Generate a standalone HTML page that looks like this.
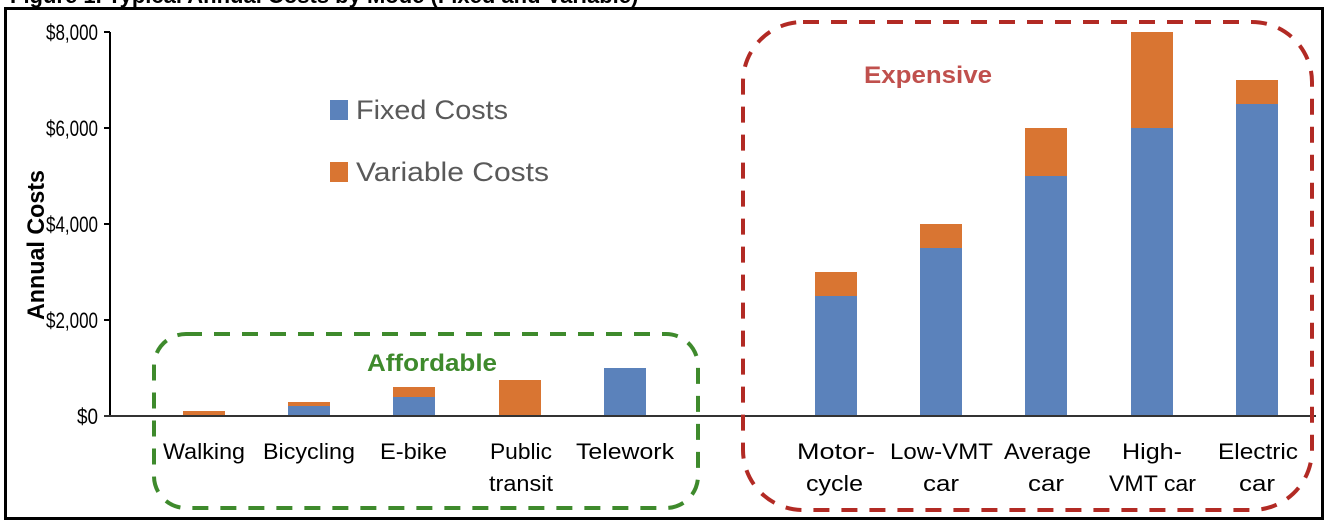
<!DOCTYPE html>
<html><head><meta charset="utf-8"><style>
body{margin:0;background:#fff;}
svg{display:block;font-family:"Liberation Sans",sans-serif;}
</style></head><body>
<svg width="1328" height="526" viewBox="0 0 1328 526">
<rect x="0" y="0" width="1328" height="526" fill="#fff"/>
<text x="10" y="3" font-size="22" font-weight="bold" fill="#000">Figure 1. Typical Annual Costs by Mode (Fixed and Variable)</text>
<rect x="5.5" y="8.5" width="1317" height="510" fill="none" stroke="#000" stroke-width="3"/>
<line x1="110" y1="32" x2="110" y2="416" stroke="#000" stroke-width="2"/>
<g stroke="#000" stroke-width="2">
<line x1="104" y1="32" x2="110" y2="32"/><line x1="104" y1="128" x2="110" y2="128"/>
<line x1="104" y1="224" x2="110" y2="224"/><line x1="104" y1="320" x2="110" y2="320"/>
</g>
<g font-size="22" fill="#000">
<text x="46" y="40" textLength="52" lengthAdjust="spacingAndGlyphs">$8,000</text>
<text x="46" y="136" textLength="52" lengthAdjust="spacingAndGlyphs">$6,000</text>
<text x="46" y="232" textLength="52" lengthAdjust="spacingAndGlyphs">$4,000</text>
<text x="46" y="328" textLength="52" lengthAdjust="spacingAndGlyphs">$2,000</text>
<text x="77" y="424" textLength="21" lengthAdjust="spacingAndGlyphs">$0</text>
</g>
<text transform="translate(44,245) rotate(-90)" font-size="24" font-weight="bold" text-anchor="middle" textLength="150" lengthAdjust="spacingAndGlyphs">Annual Costs</text>
<g>
<rect x="183" y="411" width="42" height="5" fill="#D97532"/>
<rect x="288" y="406" width="42" height="10" fill="#5B82BB"/><rect x="288" y="402" width="42" height="4" fill="#D97532"/>
<rect x="393" y="397" width="42" height="19" fill="#5B82BB"/><rect x="393" y="387" width="42" height="10" fill="#D97532"/>
<rect x="499" y="380" width="42" height="36" fill="#D97532"/>
<rect x="604" y="368" width="42" height="48" fill="#5B82BB"/>
<rect x="815" y="296" width="42" height="120" fill="#5B82BB"/><rect x="815" y="272" width="42" height="24" fill="#D97532"/>
<rect x="920" y="248" width="42" height="168" fill="#5B82BB"/><rect x="920" y="224" width="42" height="24" fill="#D97532"/>
<rect x="1025" y="176" width="42" height="240" fill="#5B82BB"/><rect x="1025" y="128" width="42" height="48" fill="#D97532"/>
<rect x="1131" y="128" width="42" height="288" fill="#5B82BB"/><rect x="1131" y="32" width="42" height="96" fill="#D97532"/>
<rect x="1236" y="104" width="42" height="312" fill="#5B82BB"/><rect x="1236" y="80" width="42" height="24" fill="#D97532"/>
</g>
<line x1="104" y1="416" x2="1316" y2="416" stroke="#333" stroke-width="2"/>
<g font-size="22" fill="#000">
<text x="163" y="459" textLength="82" lengthAdjust="spacingAndGlyphs">Walking</text>
<text x="263" y="459" textLength="92" lengthAdjust="spacingAndGlyphs">Bicycling</text>
<text x="380" y="459" textLength="67" lengthAdjust="spacingAndGlyphs">E-bike</text>
<text x="490" y="459" textLength="62" lengthAdjust="spacingAndGlyphs">Public</text>
<text x="489" y="491" textLength="64" lengthAdjust="spacingAndGlyphs">transit</text>
<text x="576" y="459" textLength="98" lengthAdjust="spacingAndGlyphs">Telework</text>
<text x="797" y="459" textLength="78" lengthAdjust="spacingAndGlyphs">Motor-</text>
<text x="806" y="491" textLength="57" lengthAdjust="spacingAndGlyphs">cycle</text>
<text x="890" y="459" textLength="103" lengthAdjust="spacingAndGlyphs">Low-VMT</text>
<text x="923" y="491" textLength="36" lengthAdjust="spacingAndGlyphs">car</text>
<text x="1004" y="459" textLength="87" lengthAdjust="spacingAndGlyphs">Average</text>
<text x="1028" y="491" textLength="36" lengthAdjust="spacingAndGlyphs">car</text>
<text x="1122" y="459" textLength="60" lengthAdjust="spacingAndGlyphs">High-</text>
<text x="1109" y="491" textLength="87" lengthAdjust="spacingAndGlyphs">VMT car</text>
<text x="1218" y="459" textLength="80" lengthAdjust="spacingAndGlyphs">Electric</text>
<text x="1239" y="491" textLength="36" lengthAdjust="spacingAndGlyphs">car</text>
</g>
<rect x="330" y="100" width="18" height="20" fill="#5B82BB"/>
<text x="356" y="119" font-size="27" fill="#595959" textLength="152" lengthAdjust="spacingAndGlyphs">Fixed Costs</text>
<rect x="330" y="162" width="18" height="20" fill="#D97532"/>
<text x="356" y="181" font-size="27" fill="#595959" textLength="193" lengthAdjust="spacingAndGlyphs">Variable Costs</text>
<rect x="154" y="334" width="544" height="174" rx="32" fill="none" stroke="#3E8A2C" stroke-width="4" stroke-dasharray="16,12"/>
<text x="432" y="371" font-size="24" font-weight="bold" fill="#3E8A2C" text-anchor="middle" textLength="130" lengthAdjust="spacingAndGlyphs">Affordable</text>
<rect x="743" y="22" width="569" height="488" rx="60" fill="none" stroke="#B22A24" stroke-width="4" stroke-dasharray="16,12"/>
<text x="928" y="83" font-size="24" font-weight="bold" fill="#C0504D" text-anchor="middle" textLength="128" lengthAdjust="spacingAndGlyphs">Expensive</text>
</svg>
</body></html>
